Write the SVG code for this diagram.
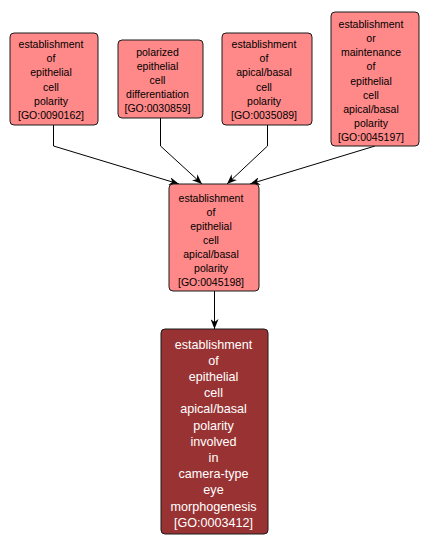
<svg xmlns="http://www.w3.org/2000/svg" width="429" height="549" viewBox="0 0 429 549">
<style>
.bg{fill:#ffffff}
.n rect{fill:#ff8888;stroke:#1a1a1a;stroke-width:1}
.n text{font-family:"Liberation Sans",Arial,sans-serif;font-size:10.5px;fill:#000;text-anchor:middle}
.d rect{fill:#993333;stroke:#1a1a1a;stroke-width:1}
.d text{font-family:"Liberation Sans",Arial,sans-serif;font-size:12.6px;fill:#fff;text-anchor:middle}
.e{fill:none;stroke:#000;stroke-width:1;marker-end:url(#ah)}
</style>
<defs>
<marker id="ah" viewBox="0 0 10 8" refX="10" refY="4" markerWidth="10" markerHeight="8" markerUnits="userSpaceOnUse" orient="auto">
<path d="M0,0 L10,4 L0,8 L3,4 z" fill="#000"/>
</marker>
</defs>
<rect class="bg" x="0" y="0" width="429" height="549"/>
<g id="connectors">
<polyline class="e" points="53.5,125 53.5,146 179,184"/>
<polyline class="e" points="160.5,118 160.5,146 202,184"/>
<polyline class="e" points="267.5,125 267.5,146 227,184"/>
<polyline class="e" points="375,146 250,184"/>
<polyline class="e" points="214.5,291 214.5,329"/>
</g>
<g id="GO0090162" class="n">
<rect x="10" y="33" width="88" height="92" rx="4"/>
<text x="51" y="48">establishment</text>
<text x="51" y="62.2">of</text>
<text x="51" y="76.4">epithelial</text>
<text x="51" y="90.6">cell</text>
<text x="51" y="104.8">polarity</text>
<text x="51" y="119">[GO:0090162]</text>
</g>
<g id="GO0030859" class="n">
<rect x="118" y="40" width="85" height="78" rx="4"/>
<text x="157.5" y="55.5">polarized</text>
<text x="157.5" y="69.7">epithelial</text>
<text x="157.5" y="83.9">cell</text>
<text x="157.5" y="98.1">differentiation</text>
<text x="157.5" y="112.3">[GO:0030859]</text>
</g>
<g id="GO0035089" class="n">
<rect x="222" y="33" width="90" height="92" rx="4"/>
<text x="264" y="48">establishment</text>
<text x="264" y="62.2">of</text>
<text x="264" y="76.4">apical/basal</text>
<text x="264" y="90.6">cell</text>
<text x="264" y="104.8">polarity</text>
<text x="264" y="119">[GO:0035089]</text>
</g>
<g id="GO0045197" class="n">
<rect x="331" y="12" width="88" height="134" rx="4"/>
<text x="371" y="27.8">establishment</text>
<text x="371" y="42">or</text>
<text x="371" y="56.2">maintenance</text>
<text x="371" y="70.4">of</text>
<text x="371" y="84.6">epithelial</text>
<text x="371" y="98.8">cell</text>
<text x="371" y="113">apical/basal</text>
<text x="371" y="127.2">polarity</text>
<text x="371" y="141.4">[GO:0045197]</text>
</g>
<g id="GO0045198" class="n">
<rect x="169" y="184" width="90" height="107" rx="4"/>
<text x="211" y="202.1">establishment</text>
<text x="211" y="216">of</text>
<text x="211" y="229.9">epithelial</text>
<text x="211" y="243.8">cell</text>
<text x="211" y="257.7">apical/basal</text>
<text x="211" y="271.6">polarity</text>
<text x="211" y="285.5">[GO:0045198]</text>
</g>
<g id="GO0003412" class="d">
<rect x="161" y="329" width="107" height="205" rx="4"/>
<text x="213.5" y="348.6">establishment</text>
<text x="213.5" y="364.8">of</text>
<text x="213.5" y="381">epithelial</text>
<text x="213.5" y="397.2">cell</text>
<text x="213.5" y="413.4">apical/basal</text>
<text x="213.5" y="429.6">polarity</text>
<text x="213.5" y="445.8">involved</text>
<text x="213.5" y="462">in</text>
<text x="213.5" y="478.2">camera-type</text>
<text x="213.5" y="494.4">eye</text>
<text x="213.5" y="510.6">morphogenesis</text>
<text x="213.5" y="526.8">[GO:0003412]</text>
</g>
</svg>
